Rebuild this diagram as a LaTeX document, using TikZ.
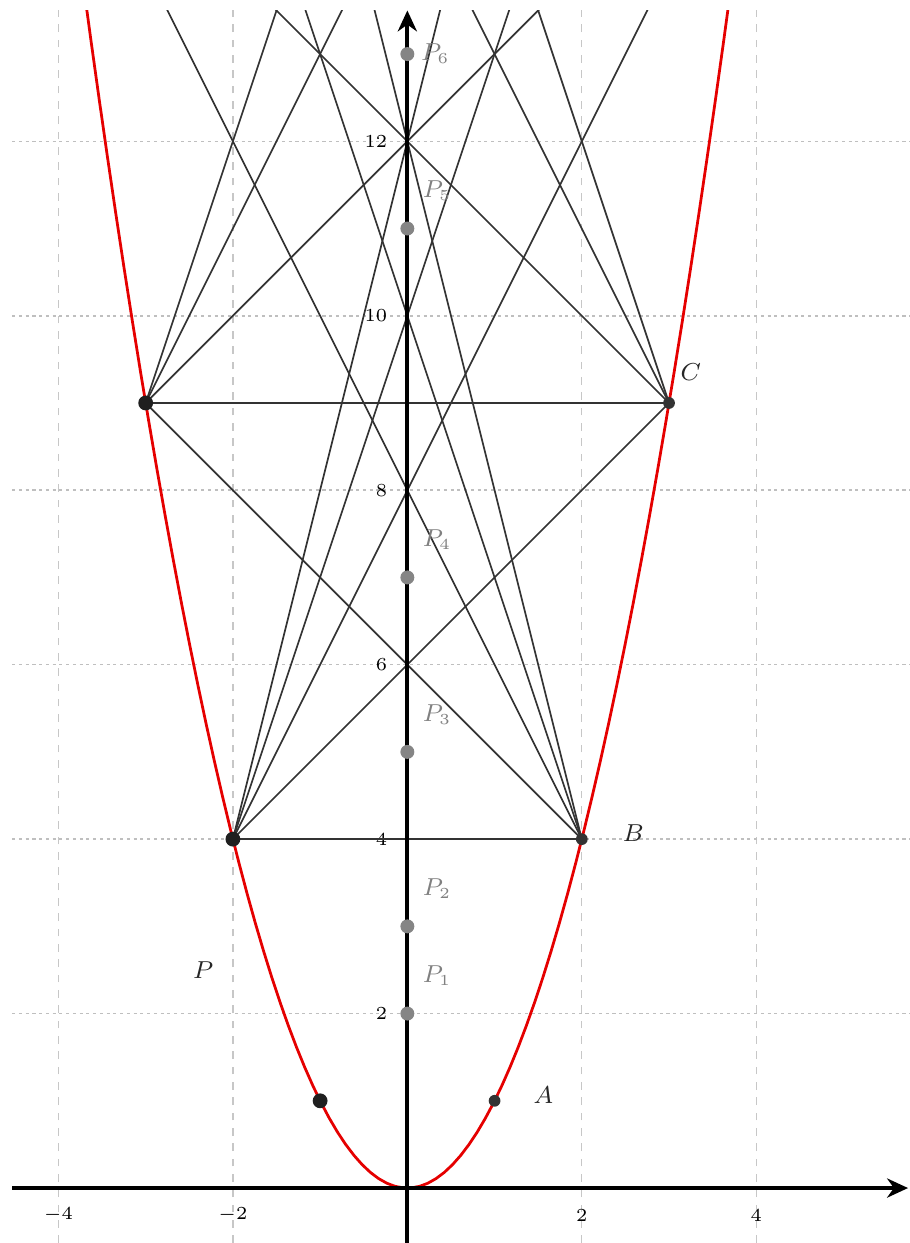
\documentclass[tikz,border=0pt]{standalone}
\usepackage{amsmath,amssymb}
\usepackage{xcolor}
\usepackage{tikz}
\usetikzlibrary{arrows.meta}

\begin{document}
\begin{tikzpicture}[
  x=1cm, y=1cm,
  gridv/.style={draw=black!22, line width=0.4pt, dash pattern=on 2.5pt off 2.5pt},
  gridh/.style={draw=black!25, line width=0.5pt, dash pattern=on 1pt off 1.2pt},
  axis/.style={line width=1.3pt, -{Stealth[length=2.4mm, width=2.2mm]}},
  chord/.style={draw=black!80, line width=0.55pt},
  parab/.style={draw=red!90!black, line width=0.9pt},
  ptleft/.style={circle, fill=black!88, inner sep=0pt, minimum size=1.7mm},
  ptright/.style={circle, fill=black!80, inner sep=0pt, minimum size=1.35mm},
  ptprime/.style={circle, fill=black!48, inner sep=0pt, minimum size=1.6mm},
  tick/.style={font=\fontsize{6}{7}\selectfont, inner sep=1pt},
  label/.style={font=\fontsize{7.8}{9}\selectfont, text=black!85},
  plabel/.style={font=\fontsize{7.8}{9}\selectfont, text=black!50}
]
\useasboundingbox (-4.67,-0.63) rectangle (5.76,13.62);
\foreach \gx in {-4,-2,2,4} \draw[gridv] (\gx,-0.63) -- (\gx,13.5);
\foreach \gy in {2,4,...,12} \draw[gridh] (-4.53,\gy) -- (5.76,\gy);
\foreach \tx in {-4,-2,2,4} \node[tick] (xtick\tx) at (\tx,-0.31) {$\tx$};
\foreach \ty in {2,4,...,12} \node[tick, anchor=east] (ytick\ty) at (-0.19,\ty) {$\ty$};
\foreach \k in {1,...,6} {
  \coordinate (l\k) at (-\k,\k*\k);
  \coordinate (r\k) at (\k,\k*\k);
}
\begin{scope}
  \clip (-4.67,-0.63) rectangle (5.76,13.5);
  \draw[parab] plot[domain=-3.72:3.72, samples=80] (\x,{\x*\x});
  \foreach \a in {2,...,6} \foreach \b in {2,...,6} \draw[chord] (l\a) -- (r\b);
\end{scope}
\coordinate (xstart) at (-4.53,0);
\coordinate (xend) at (5.74,0);
\coordinate (ystart) at (0,-0.63);
\coordinate (yend) at (0,13.5);
\draw[axis] (xstart) -- (xend);
\draw[axis] (ystart) -- (yend);
\foreach \k in {1,2,3} {
  \node[ptleft] (dotl\k) at (l\k) {};
  \node[ptright] (dotr\k) at (r\k) {};
}
\foreach \p/\n in {2/1,3/2,5/3,7/4,11/5} {
  \node[ptprime] (prime\n) at (0,\p) {};
  \node[plabel] (primename\n) at (0.34,\p+0.43) {$P_{\n}$};
}
\node[ptprime] (prime6) at (0,13) {};
\node[plabel] (primename6) at (0.32,13.0) {$P_6$};
\node[label] (namea) at (1.56,1.07) {$A$};
\node[label] (nameb) at (2.59,4.07) {$B$};
\node[label] (namec) at (3.25,9.35) {$C$};
\node[label] (namep) at (-2.34,2.5) {$P$};
\end{tikzpicture}
\end{document}
